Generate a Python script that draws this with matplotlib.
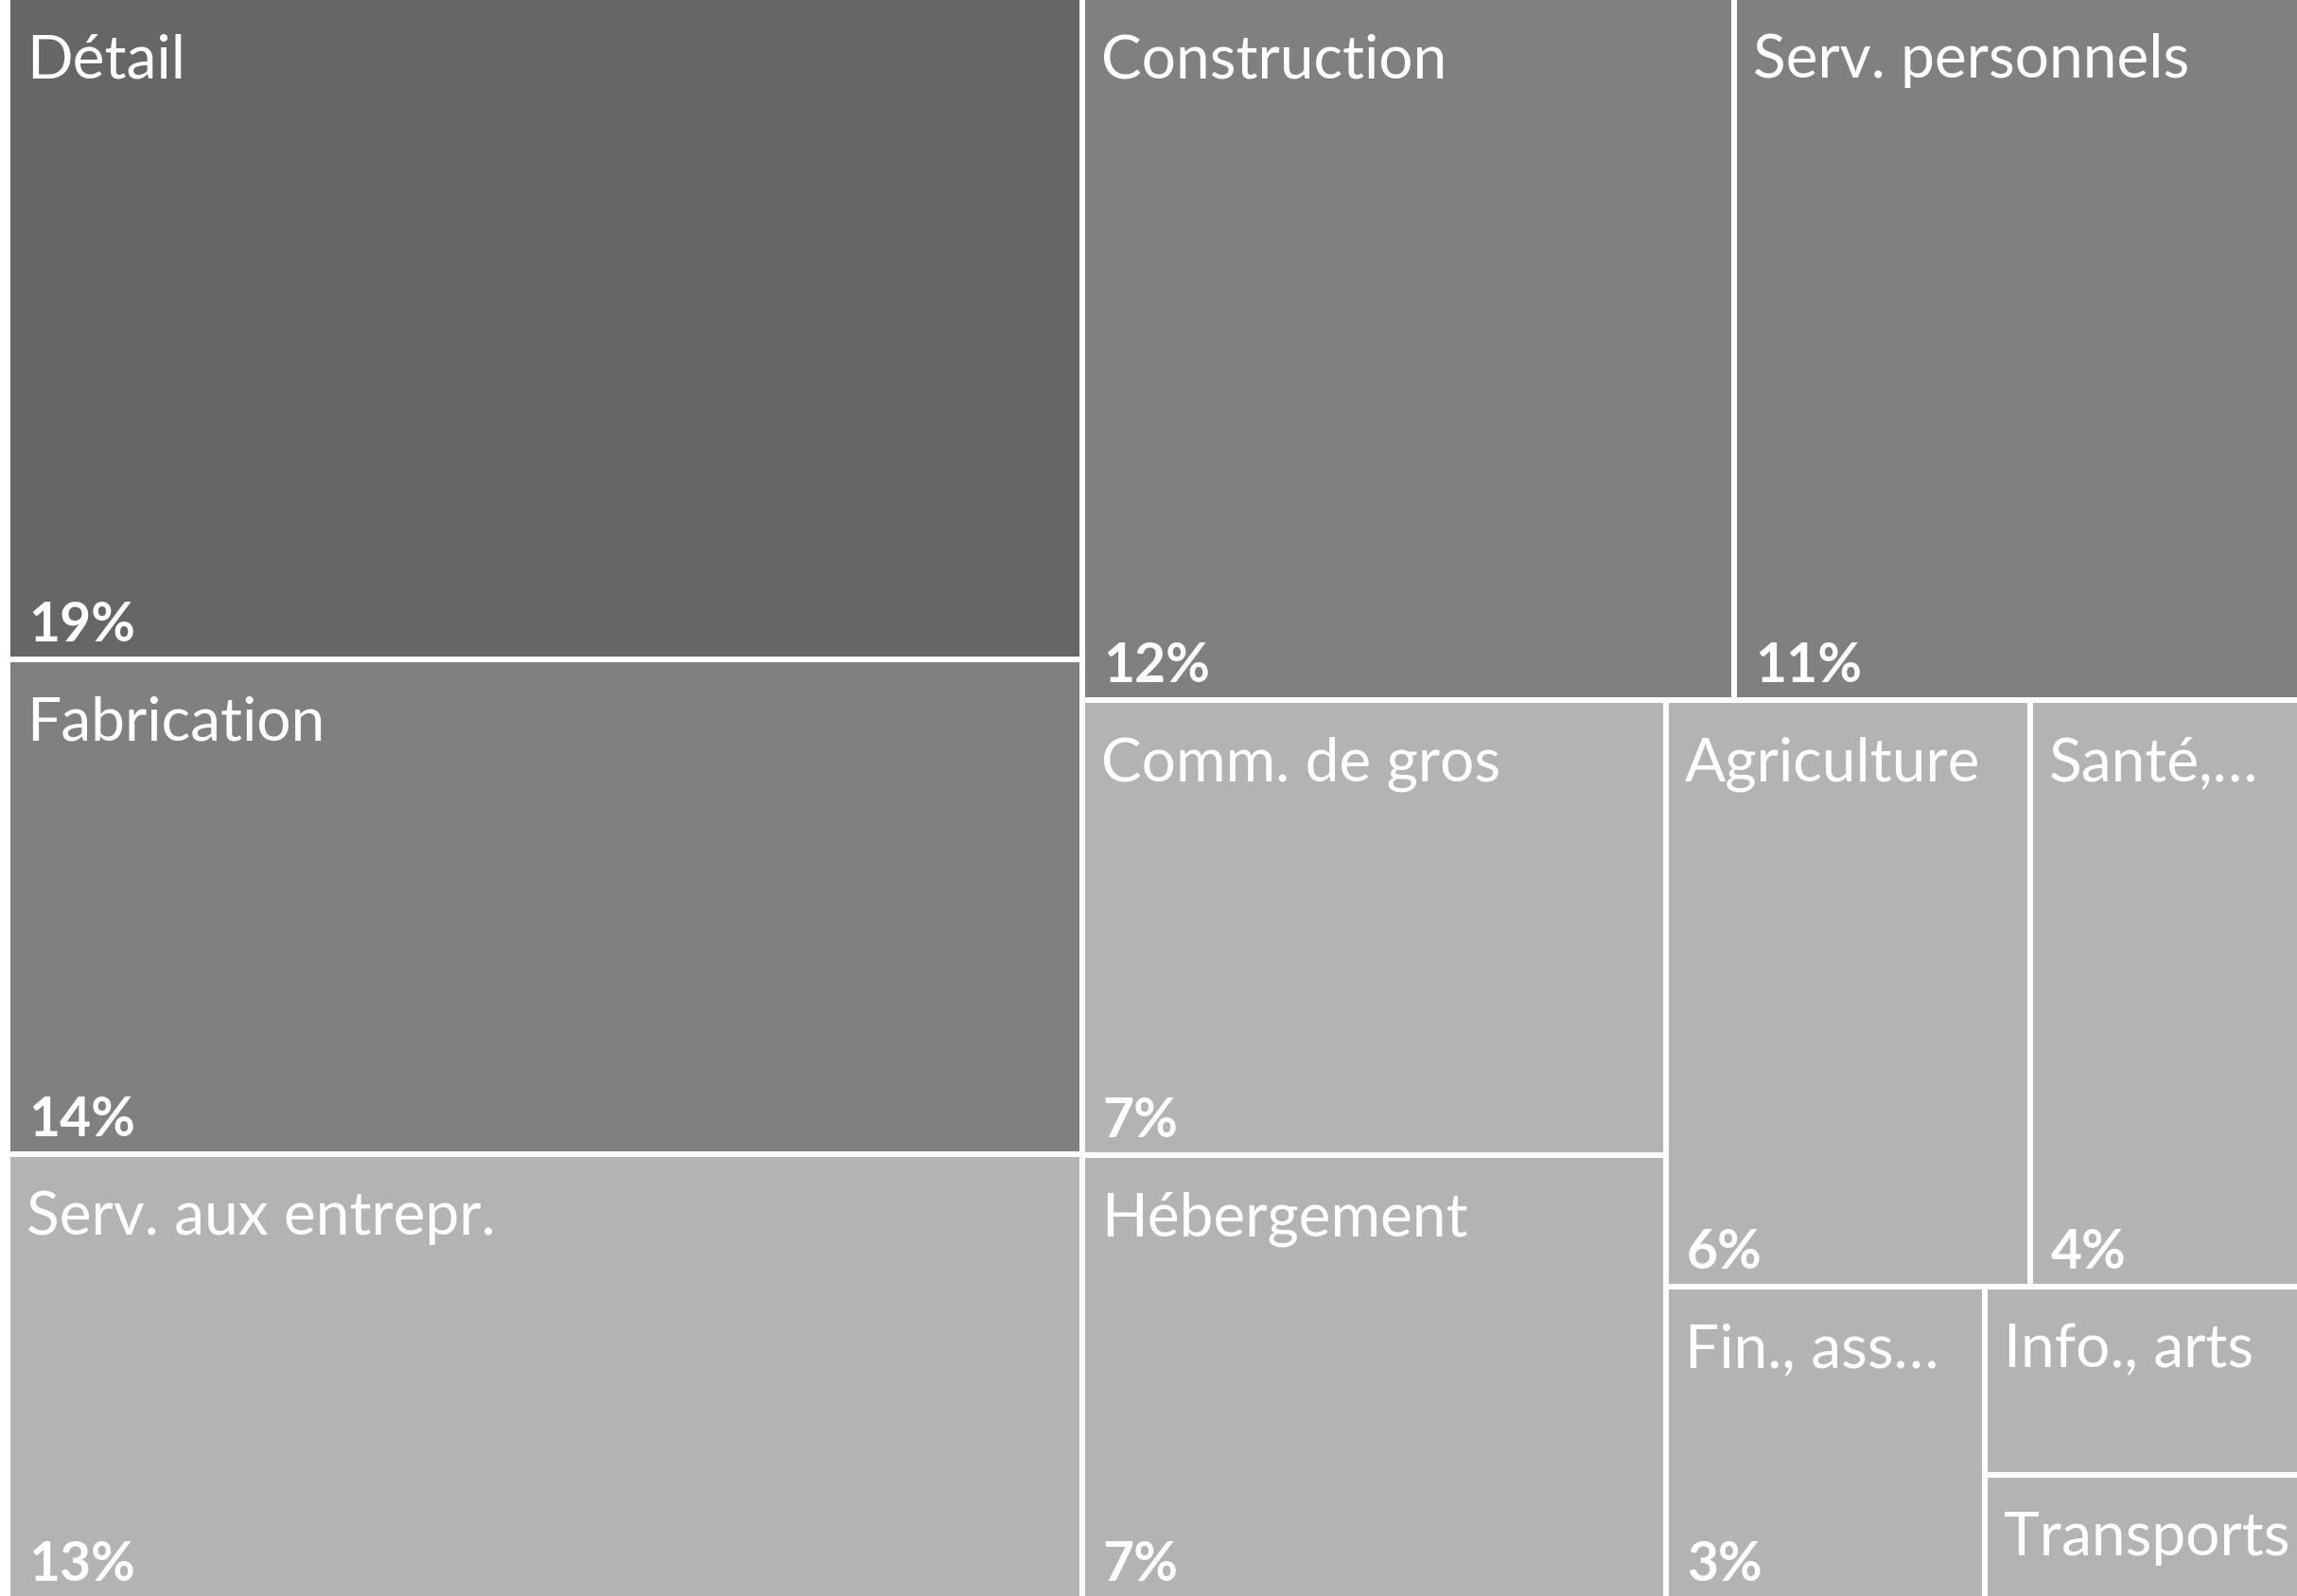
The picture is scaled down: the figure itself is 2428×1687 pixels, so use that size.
import matplotlib
matplotlib.use("Agg")
import matplotlib.pyplot as plt
from matplotlib.patches import Rectangle

# ---- data ----
categories = ["Détail", "Fabrication", "Serv. aux entrepr.", "Construction",
              "Serv. personnels", "Comm. de gros", "Hébergement", "Agriculture",
              "Santé,…", "Fin., ass…", "Info., arts", "Transports"]
values = [19.38, 14.48, 13.00, 12.48, 10.83, 7.23, 7.05, 5.82, 4.30, 2.71, 1.62, 1.06]
colors = ["#666666", "#808080", "#b3b3b3", "#808080", "#808080", "#b3b3b3",
          "#b3b3b3", "#b3b3b3", "#b3b3b3", "#b3b3b3", "#b3b3b3", "#b3b3b3"]

W, H = 2428, 1687
DPI = 100
PT = 72.0 / DPI


def squarify_d3(vals, x0, y0, x1, y1, ratio=(1 + 5 ** 0.5) / 2):
    """d3.treemapSquarify algorithm (y grows downward)."""
    rects = []
    value = float(sum(vals))
    n = len(vals)
    i0 = i1 = 0
    while i0 < n:
        dx, dy = x1 - x0, y1 - y0
        s = vals[i1]
        i1 += 1
        mn = mx = s
        alpha = max(dy / dx, dx / dy) / (value * ratio)
        beta = s * s * alpha
        min_ratio = max(mx / beta, beta / mn)
        while i1 < n:
            nv = vals[i1]
            s2 = s + nv
            mn2, mx2 = min(mn, nv), max(mx, nv)
            beta = s2 * s2 * alpha
            new_ratio = max(mx2 / beta, beta / mn2)
            if new_ratio > min_ratio:
                break
            s, mn, mx, min_ratio = s2, mn2, mx2, new_ratio
            i1 += 1
        row = vals[i0:i1]
        if dx < dy:
            yb = y0 + dy * s / value
            xx = x0
            for v in row:
                w = dx * v / s
                rects.append((xx, y0, w, yb - y0))
                xx += w
            y0 = yb
        else:
            xb = x0 + dx * s / value
            yy = y0
            for v in row:
                h = dy * v / s
                rects.append((x0, yy, xb - x0, h))
                yy += h
            x0 = xb
        value -= s
        i0 = i1
    return rects


fig = plt.figure(figsize=(W / DPI, H / DPI), dpi=DPI)
fig.patch.set_facecolor("white")
ax = fig.add_axes([0, 0, 1, 1])
ax.set_xlim(0, W)
ax.set_ylim(H, 0)
ax.axis("off")

rects = squarify_d3(values, 8, -3, W + 3, H + 3)

for (x, y, w, h), name, v, c in zip(rects, categories, values, colors):
    ax.add_patch(Rectangle((x, y), w, h, facecolor=c, edgecolor="white",
                           linewidth=6 * PT, clip_on=True))
    ax.text(x + 20, y + 85, name, color="white", fontsize=64 * PT,
            family=["Lato", "DejaVu Sans"], va="baseline", ha="left")
    if h >= 250:
        ax.text(x + 22, y + h - 19, f"{round(v)}%", color="white",
                fontsize=57 * PT, fontweight="bold",
                family=["Lato", "DejaVu Sans"], va="baseline", ha="left")

fig.savefig("out.png", dpi=DPI, facecolor="white")
